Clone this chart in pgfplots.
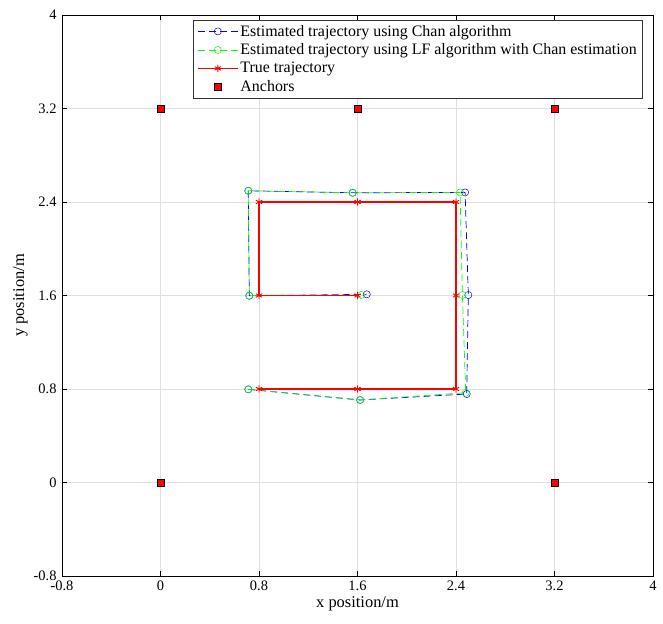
\documentclass[border=0pt]{standalone}
\usepackage{fontspec}
\setmainfont{Liberation Serif}
\usepackage{pgfplots}
\pgfplotsset{compat=1.18}
\definecolor{mgrid}{RGB}{223,223,223}

\begin{document}
\begin{tikzpicture}
\begin{axis}[
    name=ax,
    scale only axis,
    width=591bp, height=561bp,
    xmin=-0.8, xmax=4, ymin=-0.8, ymax=4,
    xtick={-0.8,0,0.8,1.6,2.4,3.2,4},
    ytick={-0.8,0,0.8,1.6,2.4,3.2,4},
    xticklabels={-0.8,0,0.8,1.6,2.4,3.2,4},
    yticklabels={-0.8,0,0.8,1.6,2.4,3.2,4},
    tick label style={font=\fontsize{14.5}{16}\selectfont},
    xticklabel style={yshift=-1.5bp},
    yticklabel style={xshift=-2bp},
    label style={font=\fontsize{16.5}{18}\selectfont},
    xlabel={x position/m},
    ylabel={y position/m},
    xlabel style={yshift=1bp},
    ylabel style={yshift=-1bp},
    grid=major,
    major grid style={mgrid, line width=0.6bp},
    tick align=inside,
    major tick length=5bp,
    tick style={black, line width=0.5bp},
    axis line style={black, line width=0.6bp},
    legend style={
        at={(0.983,0.991)}, anchor=north east,
        font=\fontsize{16}{19}\selectfont,
        draw=black!80, line width=0.5bp,
        row sep=2.5bp, inner xsep=4bp, inner ysep=3bp,
        nodes={inner ysep=1.8bp},
    },
    legend cell align=left,
    legend image code/.code={
        \draw[mark repeat=2, mark phase=2, #1]
            plot coordinates {(0bp,0bp) (20bp,0bp) (40bp,0bp)};
    },
]

% Chan estimate
\addplot[blue, dash pattern=on 7bp off 4bp, line width=0.7bp,
    mark=o, mark size=3.6pt, mark options={solid, line width=0.5bp}]
    coordinates {
        (0.713,0.797) (1.621,0.706) (2.487,0.757) (2.500,1.604)
        (2.474,2.482) (1.561,2.479) (0.713,2.496) (0.721,1.598)
        (1.675,1.610)
    };
\addlegendentry{Estimated trajectory using Chan algorithm}

% LF with Chan estimate
\addplot[green, dash pattern=on 7bp off 4bp, line width=0.7bp,
    mark=o, mark size=3.6pt, mark options={solid, line width=0.5bp}]
    coordinates {
        (0.713,0.797) (1.621,0.706) (2.479,0.768) (2.452,1.604)
        (2.433,2.482) (1.561,2.479) (0.713,2.496) (0.721,1.598)
        (1.629,1.604)
    };
\addlegendentry{Estimated trajectory using LF algorithm with Chan estimation}

% true path
\addplot[red, line width=1.3bp, mark=asterisk, mark size=3.6pt,
    mark options={line width=0.9bp}]
    coordinates {
        (0.8,0.8) (1.6,0.8) (2.4,0.8) (2.4,1.6) (2.4,2.4)
        (1.6,2.4) (0.8,2.4) (0.8,1.6) (1.6,1.6)
    };
\addlegendentry{True trajectory}

% anchors
\addplot[only marks, mark=square*, mark size=3.3pt,
    mark options={fill=red, draw=black, line width=0.5bp}]
    coordinates {(0,0) (3.2,0) (0,3.2) (1.6,3.2) (3.2,3.2)};
\addlegendentry{Anchors}

\end{axis}
\pgfresetboundingbox
\path[use as bounding box] ([shift={(-62bp,-47bp)}]ax.south west)
    rectangle ([shift={(10bp,15bp)}]ax.north east);
\end{tikzpicture}
\end{document}
